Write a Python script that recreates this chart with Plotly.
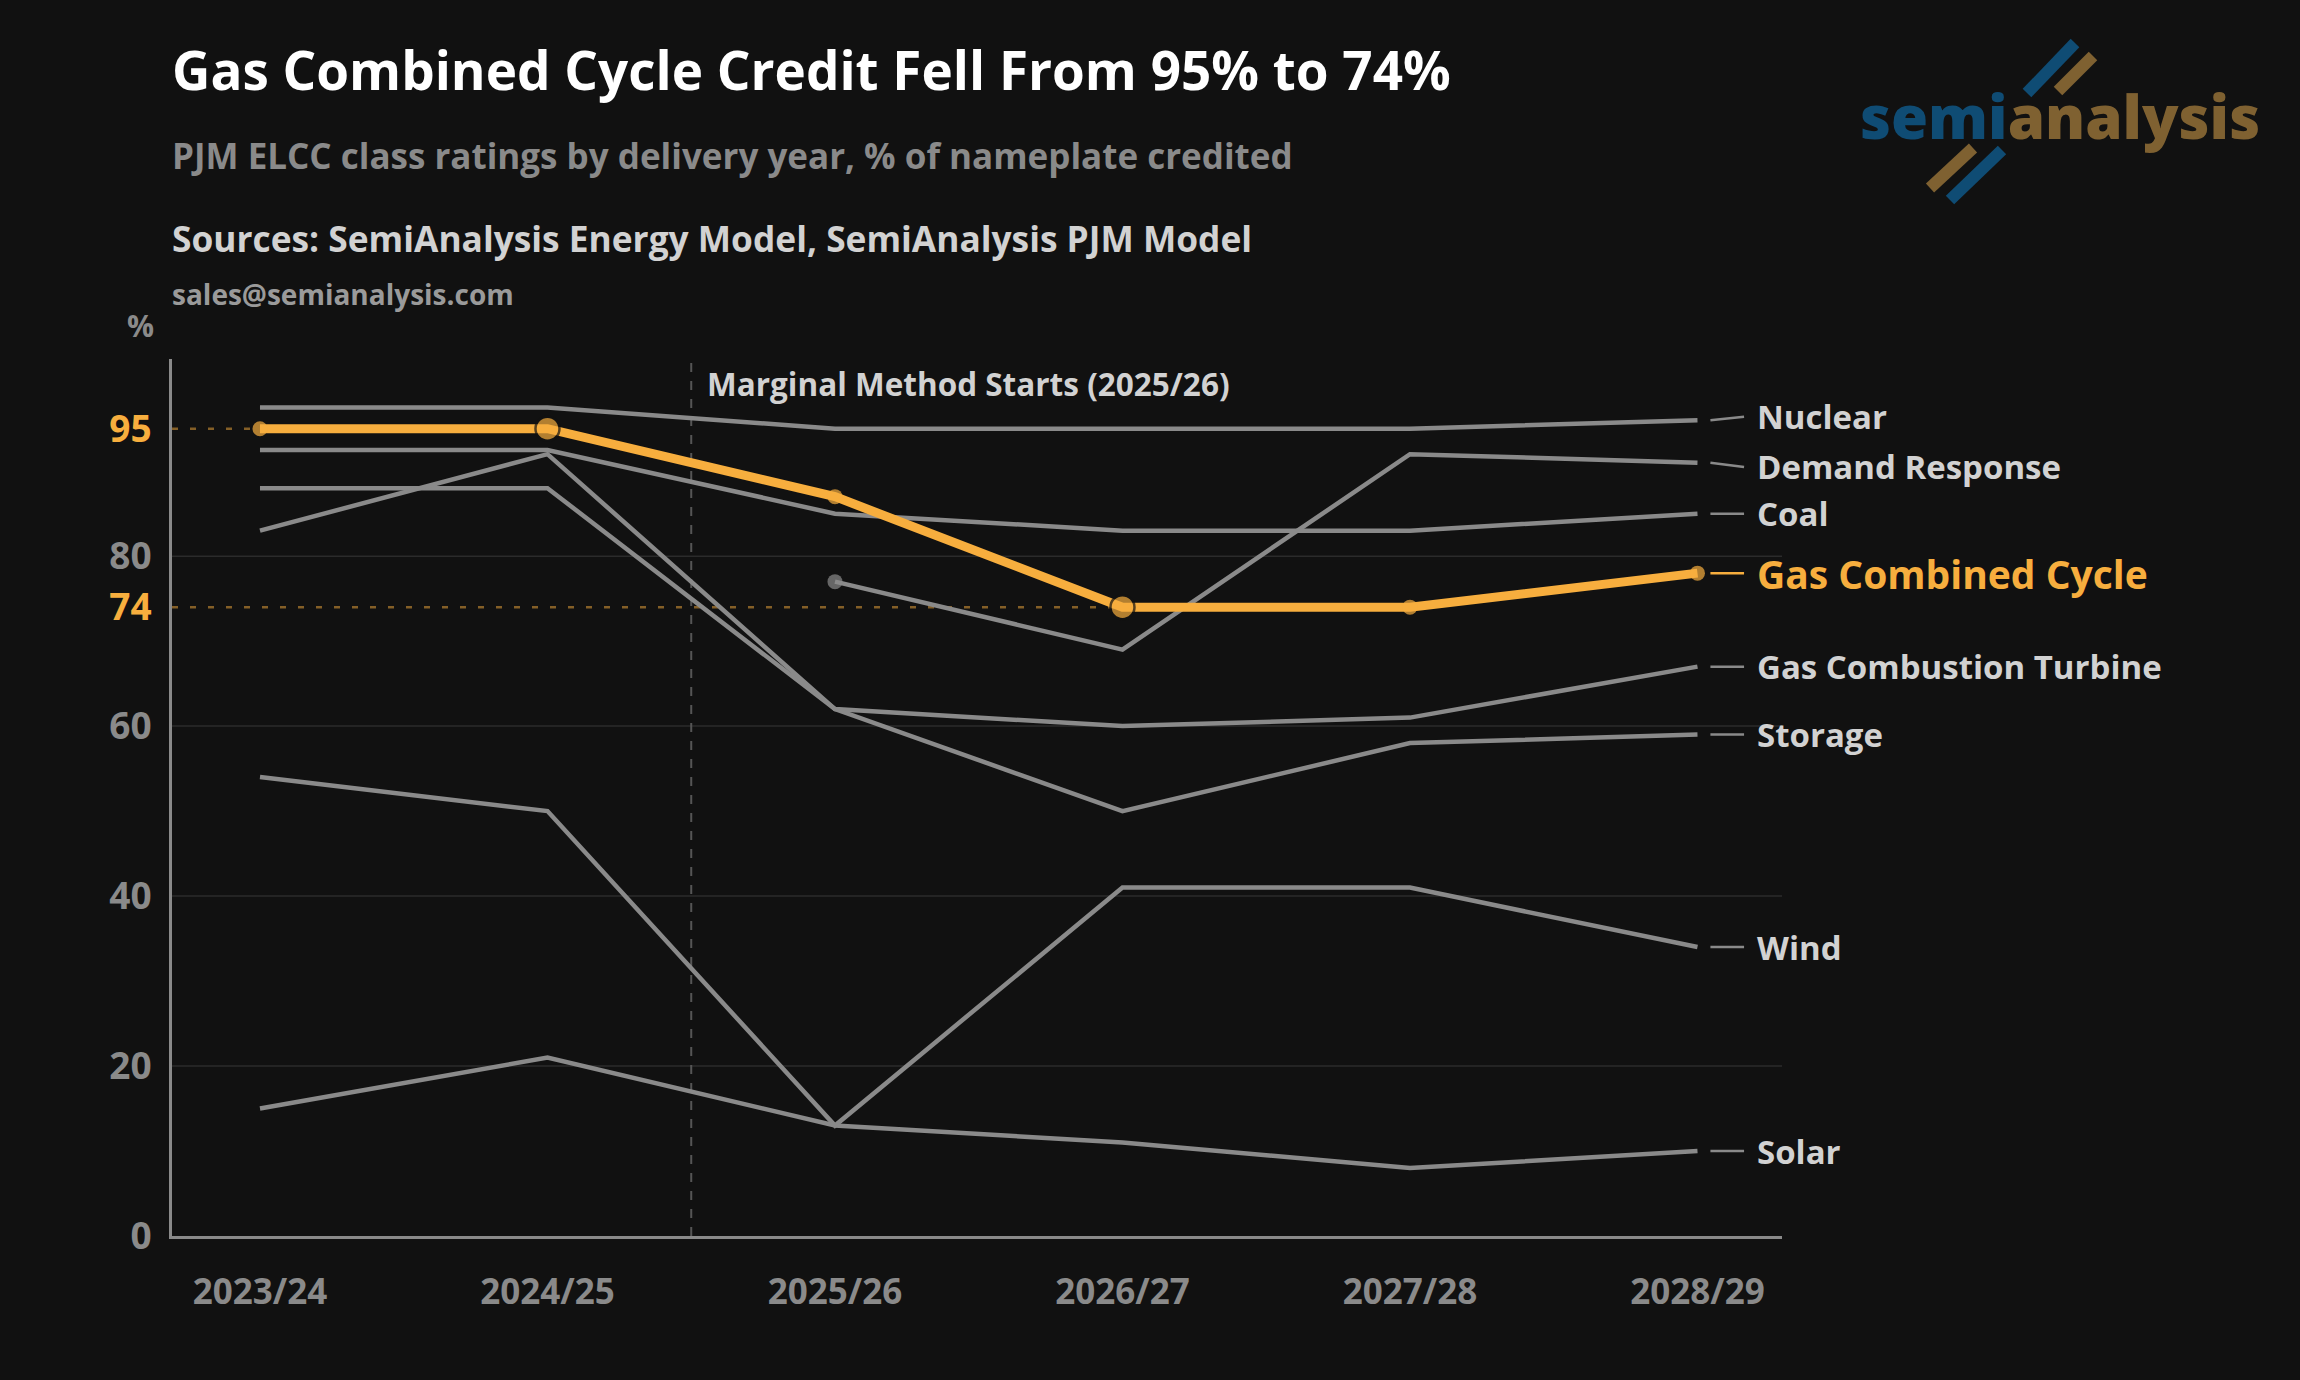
import plotly.graph_objects as go

# --- data ---
years = ["2023/24", "2024/25", "2025/26", "2026/27", "2027/28", "2028/29"]

nuclear = [97.5, 97.5, 95, 95, 95, 96]
demand_response = [None, None, 77, 69, 92, 91]
coal = [92.5, 92.5, 85, 83, 83, 85]
gas_combined_cycle = [95, 95, 87, 74, 74, 78]
gas_combustion_turbine = [88, 88, 62, 60, 61, 67]
storage = [83, 92, 62, 50, 58, 59]
wind = [54, 50, 13, 41, 41, 34]
solar = [15, 21, 13, 11, 8, 10]

y_ticks = [0, 20, 40, 60, 74, 80, 95]
grid_values = [20, 40, 60, 80]
marginal_start = "Marginal Method Starts (2025/26)"

# --- styling ---
BG = "#111111"
GRAY = "#8a8a8a"
LIGHT = "#d2d2d2"
ORANGE = "#f7ae3e"
DIM_ORANGE = "rgba(247,174,62,0.5)"
BLUE_LOGO = "#0f4c74"
GOLD_LOGO = "#7f6131"
FONT = "Open Sans"

# plot area in pixels (2300 x 1380 canvas)
PLOT_L, PLOT_R, PLOT_T, PLOT_B = 172, 1782, 359, 1236
X_RANGE = [-0.306, 5.294]


def paper_x(px):
    return (px - PLOT_L) / (PLOT_R - PLOT_L)


def paper_y(py):
    return (PLOT_B - py) / (PLOT_B - PLOT_T)


gray_series = [
    ("Nuclear", nuclear, 0.4),
    ("Demand Response", demand_response, -0.5),
    ("Coal", coal, 0),
    ("Gas Combustion Turbine", gas_combustion_turbine, 0),
    ("Storage", storage, 0),
    ("Wind", wind, 0),
    ("Solar", solar, 0),
]

fig = go.Figure()

for name, vals, _ in gray_series:
    first = next(i for i, v in enumerate(vals) if v is not None)
    sizes = [15 if (i == first and name == "Demand Response") else 0 for i in range(len(vals))]
    fig.add_trace(go.Scatter(
        x=years, y=vals, mode="lines+markers", name=name,
        line=dict(color=GRAY, width=4.5),
        marker=dict(color=GRAY, size=sizes, line=dict(width=0)),
        connectgaps=False,
    ))

# highlighted series
big = [1, 3]
fig.add_trace(go.Scatter(
    x=years, y=gas_combined_cycle, mode="lines+markers", name="Gas Combined Cycle",
    line=dict(color=ORANGE, width=9),
    marker=dict(
        color=ORANGE,
        size=[24 if i in big else 15 for i in range(len(years))],
        line=dict(color=BG, width=[2.5 if i in big else 0 for i in range(len(years))]),
    ),
))

shapes = []
# faint gridlines
for g in grid_values:
    shapes.append(dict(type="line", xref="paper", yref="y", x0=0, x1=1, y0=g, y1=g,
                       line=dict(color="#2b2b2b", width=1.5), layer="below"))
# dotted reference lines for 95 and 74
shapes.append(dict(type="line", xref="x", yref="y", x0=X_RANGE[0], x1=0,
                   y0=gas_combined_cycle[0], y1=gas_combined_cycle[0],
                   line=dict(color=DIM_ORANGE, width=2.5, dash="6px,12px"), layer="below"))
shapes.append(dict(type="line", xref="x", yref="y", x0=X_RANGE[0], x1=3,
                   y0=gas_combined_cycle[3], y1=gas_combined_cycle[3],
                   line=dict(color=DIM_ORANGE, width=2.5, dash="6px,12px"), layer="below"))
# marginal method divider between 2024/25 and 2025/26
shapes.append(dict(type="line", xref="x", yref="paper", x0=1.5, x1=1.5, y0=0, y1=1,
                   line=dict(color="#555555", width=2, dash="9px,9px"), layer="below"))

annotations = []
# end labels with short leader ticks
all_series = gray_series + [("Gas Combined Cycle", gas_combined_cycle, 0)]
for name, vals, nudge in all_series:
    end = vals[-1]
    col = ORANGE if name == "Gas Combined Cycle" else GRAY
    shapes.append(dict(type="line", xref="x", yref="y", x0=5.045, x1=5.162,
                       y0=end, y1=end + nudge, line=dict(color=col, width=2.5)))
    annotations.append(dict(
        x=5.2, y=end + nudge, xref="x", yref="y", xanchor="left", yanchor="middle",
        text=name, showarrow=False,
        font=dict(family=FONT, size=39 if name == "Gas Combined Cycle" else 33,
                  color=ORANGE if name == "Gas Combined Cycle" else LIGHT, weight=700),
    ))

annotations.append(dict(
    x=1.548, y=100.3, xref="x", yref="y", xanchor="left", yanchor="middle",
    text=marginal_start, showarrow=False,
    font=dict(family=FONT, size=31.5, color=LIGHT, weight=700),
))

# header text
header = [
    ("Gas Combined Cycle Credit Fell From 95% to 74%", 70, 53, "#ffffff"),
    ("PJM ELCC class ratings by delivery year, % of nameplate credited", 155, 35, GRAY),
    ("Sources: SemiAnalysis Energy Model, SemiAnalysis PJM Model", 238, 35.3, LIGHT),
    ("sales@semianalysis.com", 294, 28, "#9a9a9a"),
]
for text, py, size, col in header:
    annotations.append(dict(
        x=paper_x(170), y=paper_y(py), xref="paper", yref="paper",
        xanchor="left", yanchor="middle", text=text, showarrow=False,
        font=dict(family=FONT, size=size, color=col, weight=700),
    ))
annotations.append(dict(
    x=paper_x(140), y=paper_y(325), xref="paper", yref="paper",
    xanchor="center", yanchor="middle", text="%", showarrow=False,
    font=dict(family=FONT, size=30, color=GRAY, weight=700),
))

# logo
annotations.append(dict(
    x=paper_x(2060), y=paper_y(116), xref="paper", yref="paper",
    xanchor="center", yanchor="middle", showarrow=False,
    text=f"<span style='color:{BLUE_LOGO}'>semi</span><span style='color:{GOLD_LOGO}'>analysis</span>",
    font=dict(family=FONT, size=60, weight=800),
))
for (x0, y0, x1, y1, col) in [
    (2027, 93, 2075, 43, BLUE_LOGO),
    (2058, 91, 2093, 56, GOLD_LOGO),
    (1930, 188, 1973, 148, GOLD_LOGO),
    (1950, 200, 2002, 150, BLUE_LOGO),
]:
    shapes.append(dict(type="line", xref="paper", yref="paper",
                       x0=paper_x(x0), y0=paper_y(y0), x1=paper_x(x1), y1=paper_y(y1),
                       line=dict(color=col, width=12)))

tick_text = [
    f"<span style='color:{ORANGE}'>{v}</span>" if v in (gas_combined_cycle[0], gas_combined_cycle[3]) else str(v)
    for v in y_ticks
]

fig.update_layout(
    width=2300, height=1380,
    paper_bgcolor=BG, plot_bgcolor=BG,
    margin=dict(l=PLOT_L, r=2300 - PLOT_R, t=PLOT_T, b=1380 - PLOT_B),
    showlegend=False,
    font=dict(family=FONT, color=GRAY),
    shapes=shapes,
    annotations=annotations,
    xaxis=dict(
        type="category", range=X_RANGE,
        showline=True, linecolor=GRAY, linewidth=3,
        showgrid=False, zeroline=False,
        ticks="outside", ticklen=23, tickcolor="rgba(0,0,0,0)",
        tickfont=dict(family=FONT, size=35, color=GRAY, weight=700),
    ),
    yaxis=dict(
        range=[0, 103.2],
        tickvals=y_ticks, ticktext=tick_text,
        showline=True, linecolor=GRAY, linewidth=3,
        showgrid=False, zeroline=False,
        ticks="outside", ticklen=10, tickcolor="rgba(0,0,0,0)",
        tickfont=dict(family=FONT, size=37, color=GRAY, weight=700),
    ),
)

fig.write_html(
    "out.html",
    config={"displayModeBar": False},
    post_script="document.body.style.margin='0';document.body.style.background='#111111';",
)
